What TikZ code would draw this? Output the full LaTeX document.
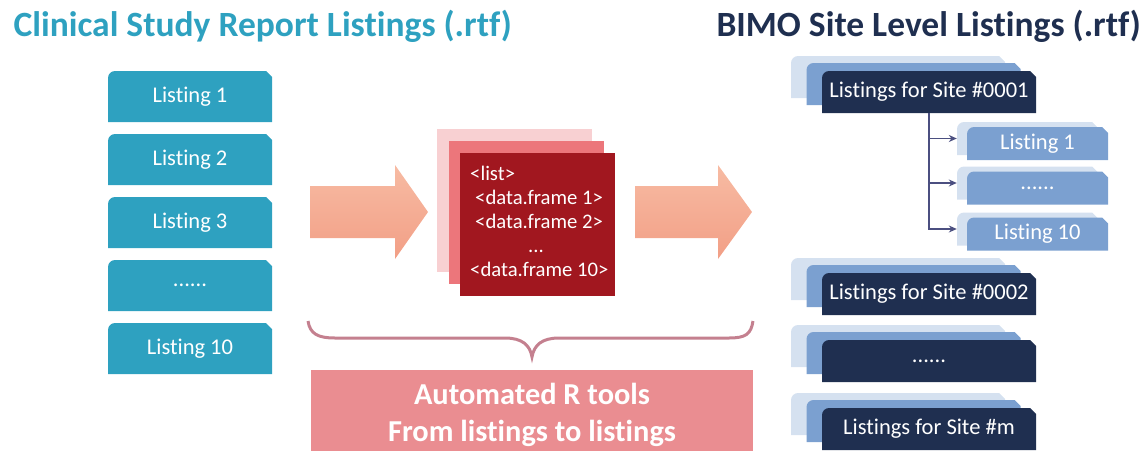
\documentclass[tikz,border=0pt]{standalone}
\usepackage{fontspec}
\setmainfont{Carlito}[Ligatures=NoCommon]
\usetikzlibrary{arrows.meta}

\definecolor{cstteal}{HTML}{2EA1C0}
\definecolor{bimonavy}{HTML}{1F2F50}
\definecolor{bimomid}{HTML}{7BA0D0}
\definecolor{bimolight}{HTML}{D5E1F0}
\definecolor{pagelight}{HTML}{F8D0D2}
\definecolor{pagemid}{HTML}{EC767B}
\definecolor{pagedark}{HTML}{A1171F}
\definecolor{arrowtop}{HTML}{F7BBA3}
\definecolor{arrowbot}{HTML}{F29F86}
\definecolor{bracecol}{HTML}{C4808F}
\definecolor{toolpink}{HTML}{EA8D91}
\definecolor{treecol}{HTML}{4B4F80}

\tikzset{
  tab/.style={inner sep=0pt, text=white, path picture={
      \fill[#1] (path picture bounding box.south west)
        -- ([yshift=-7pt]path picture bounding box.north west)
        arc[start angle=180, end angle=90, radius=7pt]
        -- ([xshift=-6pt]path picture bounding box.north east)
        -- ([yshift=-6pt]path picture bounding box.north east)
        -- (path picture bounding box.south east) -- cycle;}},
  lbox/.style={minimum width=164pt, minimum height=51pt, font=\fontsize{22.5}{26}\selectfont},
  sitebox/.style={minimum width=214pt, minimum height=42pt, font=\fontsize{22.5}{26}\selectfont},
  subbox/.style={minimum width=141pt, minimum height=33pt, font=\fontsize{22.5}{26}\selectfont},
  page/.style={minimum width=155pt, minimum height=143pt, inner sep=0pt},
  bigarrow/.style={top color=arrowtop, bottom color=arrowbot, draw=none},
}

\begin{document}
\begin{tikzpicture}[x=1pt,y=-1pt]
  \useasboundingbox (0,0) rectangle (1145,450);

  % titles
  \node[anchor=base west, text=cstteal, font=\fontsize{35.5}{40}\selectfont\bfseries] (ltitle) at (10,36) {Clinical Study Report Listings (.rtf)};
  \node[anchor=base west, text=bimonavy, font=\fontsize{35.5}{40}\selectfont\bfseries] (rtitle) at (713,36) {BIMO Site Level Listings (.rtf)};

  % CSR listings
  \foreach \i/\t in {1/{Listing 1}, 2/{Listing 2}, 3/{Listing 3}, 4/{......}, 5/{Listing 10}}
    \node[tab=cstteal, lbox] (csr\i) at (190,33.5+63*\i) {\t};

  % arrows
  \shade[bigarrow] (310,186) -- (395,186) -- (395,165) -- (428,212) -- (395,259) -- (395,238) -- (310,238) -- cycle;
  \shade[bigarrow] (635,186) -- (718,186) -- (718,165) -- (752,212) -- (718,259) -- (718,238) -- (635,238) -- cycle;

  % list of data frames
  \node[page, fill=pagelight] (page3) at (514.5,200.5) {};
  \node[page, fill=pagemid] (page2) at (526,212.5) {};
  \node[page, fill=pagedark] (page1) at (537.5,224.5) {};
  \node[anchor=north west, inner sep=0pt, text=white, align=left, font=\fontsize{20.7}{24}\selectfont] (rlist) at (470,166)
    {<list>\\\hspace*{5pt}<data.frame 1>\\\hspace*{5pt}<data.frame 2>\\\hspace*{58pt}...\\<data.frame 10>};

  % brace and tools
  \draw[bracecol, line width=3pt] (308,321) .. controls (310,334) and (318,338) .. (335,338) -- (505,338)
    .. controls (522,338) and (530,345) .. (532,357) .. controls (534,345) and (542,338) .. (559,338)
    -- (729,338) .. controls (746,338) and (751,334) .. (753,321);
  \node[fill=toolpink, minimum width=442pt, minimum height=84pt, inner sep=0pt] (tools) at (532,412) {};
  \node[text=white, align=center, font=\fontsize{30.4}{37}\selectfont\bfseries] (toolstext) at (532,415)
    {Automated R tools\\From listings to listings};

  % BIMO site listings
  \foreach \n/\y/\t in {1/92/{Listings for Site \#0001}, 2/294/{Listings for Site \#0002}, 3/361/{......}, 4/429/{Listings for Site \#m}}{
    \node[tab=bimolight, sitebox] (site\n b) at (898,\y-15) {};
    \node[tab=bimomid, sitebox] (site\n m) at (913.5,\y-8) {};
    \node[tab=bimonavy, sitebox] (site\n) at (929,\y) {\t};
  }
  \foreach \k/\y/\t in {1/143.5/{Listing 1}, 2/188/{......}, 3/234/{Listing 10}}{
    \node[tab=bimolight, subbox] (sub\k b) at (1027.5,\y-5) {};
    \node[tab=bimomid, subbox] (sub\k) at (1037.5,\y) {\t};
    \draw[treecol, line width=1.5pt, -{Stealth[length=8pt,width=7pt]}] (site1.south) |- (sub\k b.west);
  }
\end{tikzpicture}
\end{document}
